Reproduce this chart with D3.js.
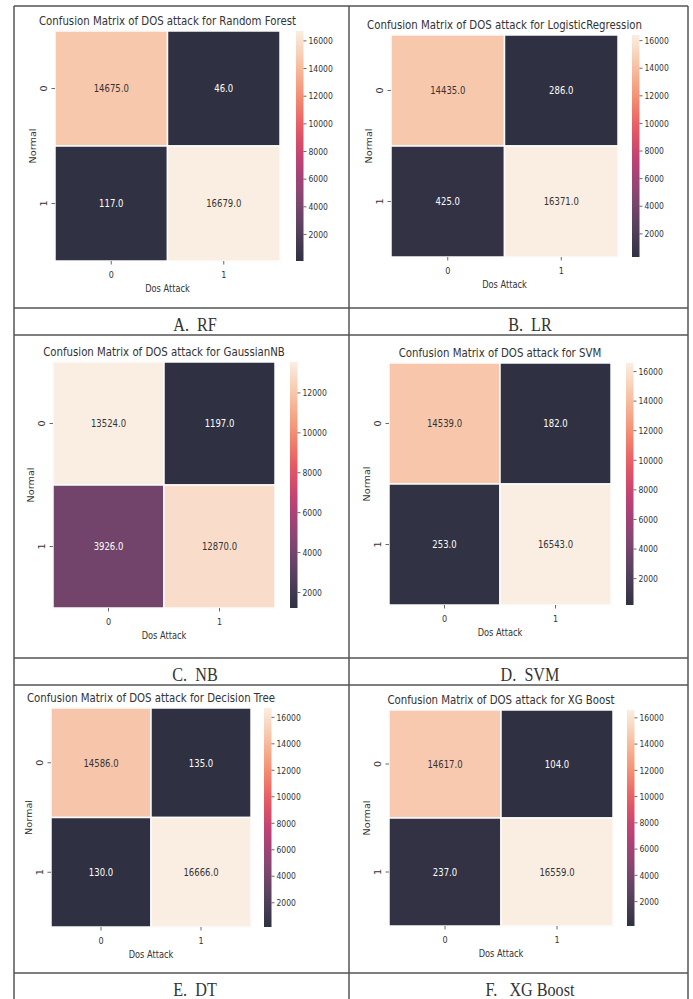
<!DOCTYPE html>
<html>
<head>
<meta charset="utf-8">
<script src="https://cdn.jsdelivr.net/npm/d3@7"></script>
<style>
  body { margin: 0; background: #fff; }
  svg text { font-family: "DejaVu Sans", sans-serif; fill: #333; }
  .caption { font-family: "Liberation Serif", serif; white-space: pre; }
</style>
</head>
<body>
<div id="chart"></div>
<script>

// Chart data
const models = ["Random Forest", "LogisticRegression", "GaussianNB", "SVM", "Decision Tree", "XG Boost"];
const captions = ["A.  RF", "B.  LR", "C.  NB", "D.  SVM", "E.  DT", "F.   XG Boost"];
const classLabels = ["0", "1"];
const matrices = [
    [[14675, 46], [117, 16679]],
    [[14435, 286], [425, 16371]],
    [[13524, 1197], [3926, 12870]],
    [[14539, 182], [253, 16543]],
    [[14586, 135], [130, 16666]],
    [[14617, 104], [237, 16559]]
];
const cbarTicks = [2000, 4000, 6000, 8000, 10000, 12000, 14000, 16000];

// Panel layout (heatmap box and colorbar left edge)
const panels = [
    {x0: 55, x1: 280, y0: 31, y1: 261, cb: 296},
    {x0: 391, x1: 618, y0: 35, y1: 257, cb: 632},
    {x0: 53, x1: 275, y0: 362, y1: 608, cb: 290},
    {x0: 389, x1: 611, y0: 363, y1: 605, cb: 626},
    {x0: 51, x1: 251, y0: 708, y1: 927, cb: 264},
    {x0: 389, x1: 613, y0: 710, y1: 926, cb: 627}
];

const width = 693, height = 999;
const sx = 0.85;   // the picture is squeezed sideways

// seaborn "rocket", slightly washed out like the scan
const rocketStops = ["#03051a", "#35193e", "#701f57", "#ad1759", "#e13342", "#f37651", "#f6b48f", "#faebdd"];
const rocket = d3.scaleLinear()
    .domain(rocketStops.map((d, i) => i === 0 ? 0 : i === rocketStops.length - 1 ? 1 : i / 7))
    .range(rocketStops)
    .interpolate(d3.interpolateRgb);
const wash = c => d3.interpolateRgb(c, "#fafafa")(0.18);

const svg = d3.select("#chart").append("svg")
    .attr("width", width)
    .attr("height", height);

const defs = svg.append("defs");

matrices.forEach((m, k) => {
    const p = panels[k];
    const flat = m.flat();
    const lo = d3.min(flat), hi = d3.max(flat);
    const color = v => wash(rocket((v - lo) / (hi - lo)));

    const x = d3.scaleBand().domain(classLabels).range([p.x0, p.x1]);
    const y = d3.scaleBand().domain(classLabels).range([p.y0, p.y1]);
    const cx = (p.x0 + p.x1) / 2;

    const g = svg.append("g");

    // cells
    const cells = [];
    m.forEach((row, i) => row.forEach((v, j) => cells.push({r: classLabels[i], c: classLabels[j], v})));

    g.selectAll("rect.cell")
        .data(cells)
        .join("rect")
        .attr("class", "cell")
        .attr("x", d => x(d.c))
        .attr("y", d => y(d.r))
        .attr("width", x.bandwidth())
        .attr("height", y.bandwidth())
        .attr("fill", d => color(d.v))
        .attr("stroke", "#fbfbfb")
        .attr("stroke-width", 1.5);

    g.selectAll("text.annot")
        .data(cells)
        .join("text")
        .attr("class", "annot")
        .attr("transform", d => `translate(${x(d.c) + x.bandwidth() / 2},${y(d.r) + y.bandwidth() / 2}) scale(${sx},1)`)
        .attr("text-anchor", "middle")
        .attr("dominant-baseline", "central")
        .attr("font-size", 10)
        .style("fill", d => d3.hsl(color(d.v)).l > 0.55 ? "#333" : "#fff")
        .text(d => d.v.toFixed(1));

    // title
    g.append("text")
        .attr("transform", `translate(${cx},${p.y0 - 9.5}) scale(${sx},1)`)
        .attr("text-anchor", "middle")
        .attr("dominant-baseline", "central")
        .attr("font-size", 12)
        .text("Confusion Matrix of DOS attack for " + models[k]);

    // x axis
    const xAxis = g.append("g")
        .attr("transform", `translate(0,${p.y1})`)
        .call(d3.axisBottom(x).tickSize(3.5).tickPadding(3));
    xAxis.select(".domain").remove();
    xAxis.selectAll("line").attr("stroke", "#444").attr("stroke-width", 0.8);
    xAxis.selectAll("text")
        .attr("y", 0).attr("dy", null)
        .attr("transform", `translate(0,13.5) scale(${sx},1)`)
        .attr("dominant-baseline", "central")
        .attr("font-size", 9.5)
        .style("fill", "#333");

    g.append("text")
        .attr("transform", `translate(${cx},${p.y1 + 28}) scale(${sx},1)`)
        .attr("text-anchor", "middle")
        .attr("dominant-baseline", "central")
        .attr("font-size", 9.7)
        .text("Dos Attack");

    // y axis
    const yAxis = g.append("g")
        .attr("transform", `translate(${p.x0},0)`)
        .call(d3.axisLeft(y).tickSize(3.5).tickPadding(3));
    yAxis.select(".domain").remove();
    yAxis.selectAll("line").attr("stroke", "#444").attr("stroke-width", 0.8);
    yAxis.selectAll("text")
        .attr("x", 0).attr("dy", null)
        .attr("transform", `translate(-11,0) scale(${sx},1) rotate(-90)`)
        .attr("text-anchor", "middle")
        .attr("dominant-baseline", "central")
        .attr("font-size", 9.5)
        .style("fill", "#333");

    g.append("text")
        .attr("transform", `translate(${p.x0 - 22},${(p.y0 + p.y1) / 2}) scale(${sx},1) rotate(-90)`)
        .attr("text-anchor", "middle")
        .attr("dominant-baseline", "central")
        .attr("font-size", 9.7)
        .text("Normal");

    // colorbar
    const cbW = 7.5;
    const cbScale = d3.scaleLinear().domain([lo, hi]).range([p.y1, p.y0]);
    const gradId = "cbar" + k;
    defs.append("linearGradient")
        .attr("id", gradId)
        .attr("x1", 0).attr("y1", 1).attr("x2", 0).attr("y2", 0)
        .selectAll("stop")
        .data(d3.range(0, 1.0001, 0.05))
        .join("stop")
        .attr("offset", t => t)
        .attr("stop-color", t => wash(rocket(t)));

    g.append("rect")
        .attr("x", p.cb)
        .attr("y", p.y0)
        .attr("width", cbW)
        .attr("height", p.y1 - p.y0)
        .attr("fill", `url(#${gradId})`);

    const cAxis = g.append("g")
        .attr("transform", `translate(${p.cb + cbW},0)`)
        .call(d3.axisRight(cbScale)
            .tickValues(cbarTicks.filter(t => t >= lo && t <= hi))
            .tickFormat(d3.format("d"))
            .tickSize(3)
            .tickPadding(2));
    cAxis.select(".domain").remove();
    cAxis.selectAll("line").attr("stroke", "#444").attr("stroke-width", 0.8);
    cAxis.selectAll("text")
        .attr("x", 0).attr("dy", null)
        .attr("transform", `translate(5,0) scale(${sx},1)`)
        .attr("dominant-baseline", "central")
        .attr("font-size", 9)
        .style("fill", "#333");
});

// table grid around the panels
const gridX = [14, 349, 688];
const gridY = [6, 308, 335, 658, 685, 973];
const grid = svg.append("g")
    .attr("stroke", "#555")
    .attr("stroke-width", 1.5);

grid.selectAll("line.h")
    .data(gridY)
    .join("line")
    .attr("x1", gridX[0]).attr("x2", gridX[2])
    .attr("y1", d => d).attr("y2", d => d);

grid.selectAll("line.v")
    .data(gridX)
    .join("line")
    .attr("x1", d => d).attr("x2", d => d)
    .attr("y1", gridY[0]).attr("y2", height);

// captions under each panel
const capX = [195, 530];
const capY = [gridY[1], gridY[3], gridY[5]];
svg.selectAll("text.caption")
    .data(captions)
    .join("text")
    .attr("class", "caption")
    .attr("transform", (d, i) => `translate(${capX[i % 2]},${capY[Math.floor(i / 2)] + 22.5}) scale(${sx},1)`)
    .attr("text-anchor", "middle")
    .attr("font-size", 19)
    .style("fill", "#333")
    .text(d => d);

</script>
</body>
</html>
